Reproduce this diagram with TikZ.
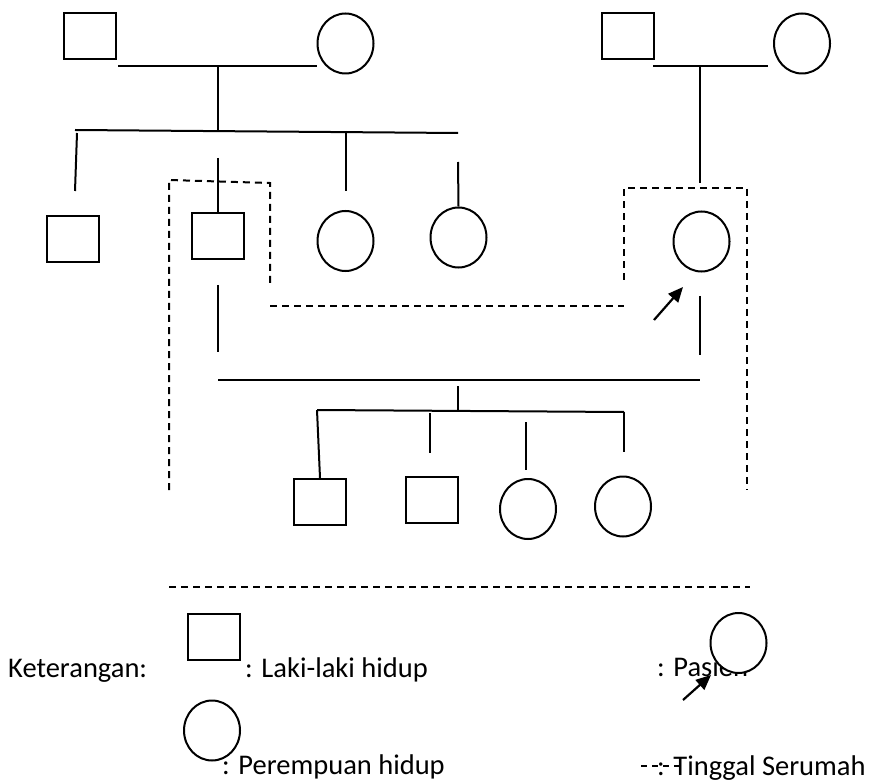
\documentclass[tikz,border=0pt]{standalone}
\usepackage{fontspec}
\setmainfont{Carlito}
\usetikzlibrary{shapes.geometric,arrows.meta}
\begin{document}
\begin{tikzpicture}[x=1pt,y=-1pt,
  male/.style={draw,line width=2pt,rectangle,minimum width=52pt,minimum height=46pt,inner sep=0pt,fill=white},
  female/.style={draw,line width=2pt,ellipse,minimum width=56pt,minimum height=60pt,inner sep=0pt,fill=white},
  solidline/.style={line width=2pt},
  dashline/.style={line width=2pt,dash pattern=on 7pt off 5pt},
  patarrow/.style={line width=2.2pt,-{Triangle[length=15pt,width=13pt]}},
  lbl/.style={anchor=base west,inner sep=0pt,font=\fontsize{28.5}{32}\selectfont}]
\useasboundingbox (0,0) rectangle (872,783);

% generation I
\node[male]   (TL)  at (90,36.5) {};
\node[female] (TC)  at (345.5,43.5) {};
\node[male]   (TRs) at (627.5,36.5) {};
\node[female] (TRc) at (802,43.5) {};

% generation II
\node[male]   (S1) at (72.5,239.5) {};
\node[male]   (S2) at (218,236.5) {};
\node[female] (C3) at (345.5,241) {};
\node[female] (C4) at (458.5,237.5) {};
\node[female] (P)  at (701.5,241.5) {};

% generation III
\node[male]   (S5) at (320,502) {};
\node[male]   (S6) at (432,500) {};
\node[female] (C7) at (528,509) {};
\node[female] (C8) at (623,506.5) {};

% coordinates for line ends
\coordinate (m1L) at (118,66);   \coordinate (m1R) at (317,66);
\coordinate (m1c) at (218,66);   \coordinate (s1c) at (218,131);
\coordinate (s1L) at (75,130);   \coordinate (s1R) at (458,133);
\coordinate (d1a) at (77,133);   \coordinate (d1b) at (75,191);
\coordinate (d2a) at (218,158);
\coordinate (d3a) at (346,131);  \coordinate (d3b) at (346,191);
\coordinate (d4a) at (458,162);
\coordinate (m2L) at (653,66);   \coordinate (m2R) at (768,66);
\coordinate (m2c) at (700,66);   \coordinate (m2d) at (700,183);
\coordinate (pa) at (700,296);   \coordinate (pb) at (700,355);
\coordinate (sa) at (218,285);   \coordinate (sb) at (218,352);
\coordinate (m3L) at (218,380);  \coordinate (m3R) at (700,380);
\coordinate (m3a) at (458,386);  \coordinate (m3b) at (458,411);
\coordinate (s3L) at (317,410);  \coordinate (s3R) at (624,412);
\coordinate (e2a) at (430,413);  \coordinate (e2b) at (430,453);
\coordinate (e3a) at (526,422);  \coordinate (e3b) at (526,470);
\coordinate (e4b) at (624,452);

\draw[solidline] (m1L) -- (m1R);
\draw[solidline] (m1c) -- (s1c);
\draw[solidline] (s1L) -- (s1R);
\draw[solidline] (d1a) -- (d1b);
\draw[solidline] (d2a) -- (S2.north);
\draw[solidline] (d3a) -- (d3b);
\draw[solidline] (d4a) -- (C4.north);
\draw[solidline] (m2L) -- (m2R);
\draw[solidline] (m2c) -- (m2d);
\draw[solidline] (pa) -- (pb);
\draw[solidline] (sa) -- (sb);
\draw[solidline] (m3L) -- (m3R);
\draw[solidline] (m3a) -- (m3b);
\draw[solidline] (s3L) -- (s3R);
\draw[solidline] (s3L) -- (S5.north);
\draw[solidline] (e2a) -- (e2b);
\draw[solidline] (e3a) -- (e3b);
\draw[solidline] (s3R) -- (e4b);

% household dashed outline
\coordinate (h1) at (169,490); \coordinate (h2) at (169,180);
\coordinate (h3) at (270,183); \coordinate (h4) at (270,287);
\coordinate (h5) at (270,306); \coordinate (h6) at (624,306);
\coordinate (h7) at (624,280); \coordinate (h8) at (624,188);
\coordinate (h9) at (747,188); \coordinate (h10) at (747,490);
\coordinate (h11) at (169,587); \coordinate (h12) at (750,587);
\draw[dashline] (h1) -- (h2) -- (h3) -- (h4);
\draw[dashline] (h5) -- (h6);
\draw[dashline] (h7) -- (h8) -- (h9) -- (h10);
\draw[dashline] (h11) -- (h12);

% patient arrow
\coordinate (pat0) at (654,320); \coordinate (pat1) at (683,287);
\draw[patarrow] (pat0) -- (pat1);

% legend
\node[lbl] (kt) at (8,677) {Keterangan:};
\node[lbl] (tl) at (245,677) {: Laki-laki hidup};
\node[lbl] (tp) at (222,774) {: Perempuan hidup};
\node[lbl] (tpa) at (657,676) {: Pasien};
\node[lbl] (tt) at (657,775) {: Tinggal Serumah};
\node[male]   (LS) at (213.5,636.5) {};
\node[female] (LC) at (212,730.5) {};
\node[female] (LP) at (738.5,643) {};
\coordinate (la0) at (683,700); \coordinate (la1) at (711,675);
\draw[patarrow] (la0) -- (la1);
\coordinate (ld0) at (641,766); \coordinate (ld1) at (684,766);
\draw[line width=1.6pt,dash pattern=on 6pt off 5pt] (ld0) -- (ld1);
\end{tikzpicture}
\end{document}
